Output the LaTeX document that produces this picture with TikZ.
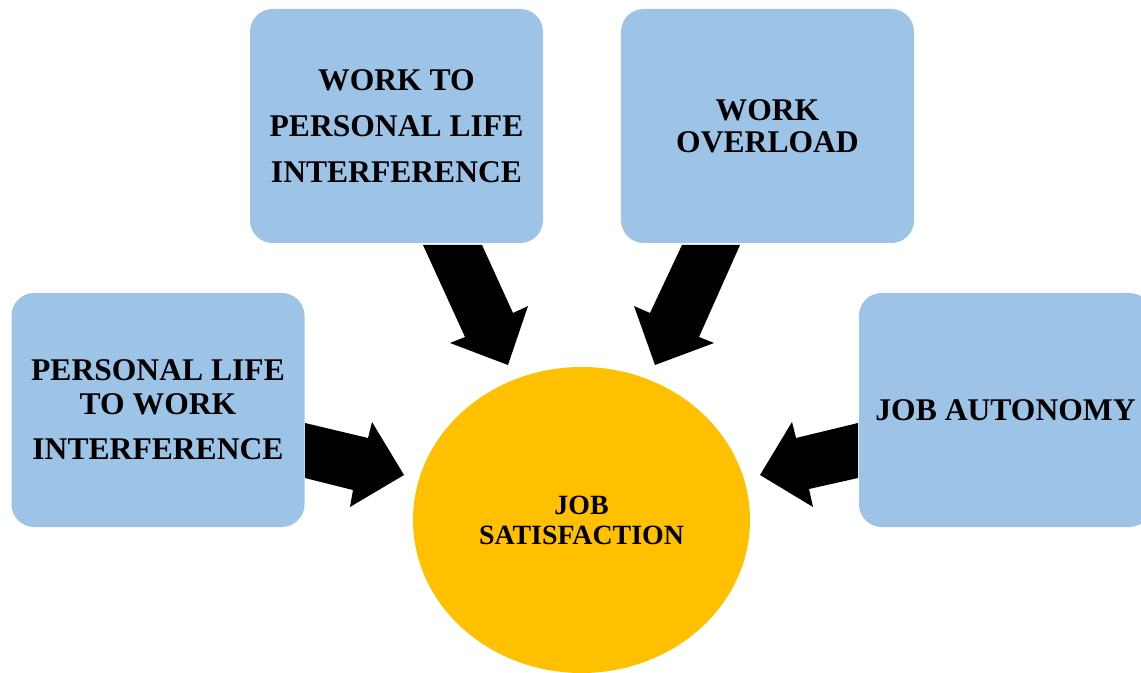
\documentclass[tikz,border=0pt]{standalone}
\usepackage{fontspec}
\setmainfont{Liberation Serif}
\usetikzlibrary{shapes.geometric}
\definecolor{boxblue}{HTML}{9DC3E6}
\definecolor{satyellow}{HTML}{FFC000}
\tikzset{
  factor/.style={fill=boxblue, draw=none, rounded corners=17pt, minimum width=219.75pt, minimum height=175.5pt, inner sep=0pt, align=center},
  outcome/.style={ellipse, fill=satyellow, draw=none, minimum width=252.75pt, minimum height=229.5pt, inner sep=0pt, align=center, font={\bfseries\fontsize{20.9}{22.5}\selectfont}},
  blockarrow/.style={fill=black, draw=none}
}
\begin{document}
\begin{tikzpicture}[x=0.75pt, y=-0.75pt]
\useasboundingbox (0,0) rectangle (1141,673);
\clip (0,0) rectangle (1141,673);
% boxes
\node[factor, font={\bfseries\fontsize{23.7}{34.5}\selectfont}] (wtpl) at (396.5,126) {WORK TO\\PERSONAL LIFE\\INTERFERENCE};
\node[factor, font={\bfseries\fontsize{23.7}{24}\selectfont}] (wo) at (767.5,126) {WORK\\OVERLOAD};
\node[factor, font={\bfseries\fontsize{23.7}{25.5}\selectfont}] (pltw) at (158,410) {PERSONAL LIFE\\TO WORK\\[8.25pt]INTERFERENCE};
\node[factor, font={\bfseries\fontsize{23.7}{24}\selectfont}] (ja) at (1005.5,410) {JOB AUTONOMY};
\node[outcome] (js) at (581.5,520) {JOB\\SATISFACTION};
% block arrows
\fill[blockarrow] (305,423) -- (368,438) -- (372,422) -- (404,475) -- (350,507) -- (353,490) -- (305,478) -- cycle;
\fill[blockarrow] (858,423) -- (796,438) -- (792,422) -- (760,475) -- (813,507) -- (809,489) -- (858,478) -- cycle;
\fill[blockarrow] (423,245) -- (482,245) -- (513,313) -- (528,306) -- (508,365) -- (450,343) -- (465,337) -- cycle;
\fill[blockarrow] (682,245) -- (740,245) -- (699,337) -- (714,343) -- (655,365) -- (634,306) -- (650,313) -- cycle;
\end{tikzpicture}
\end{document}
